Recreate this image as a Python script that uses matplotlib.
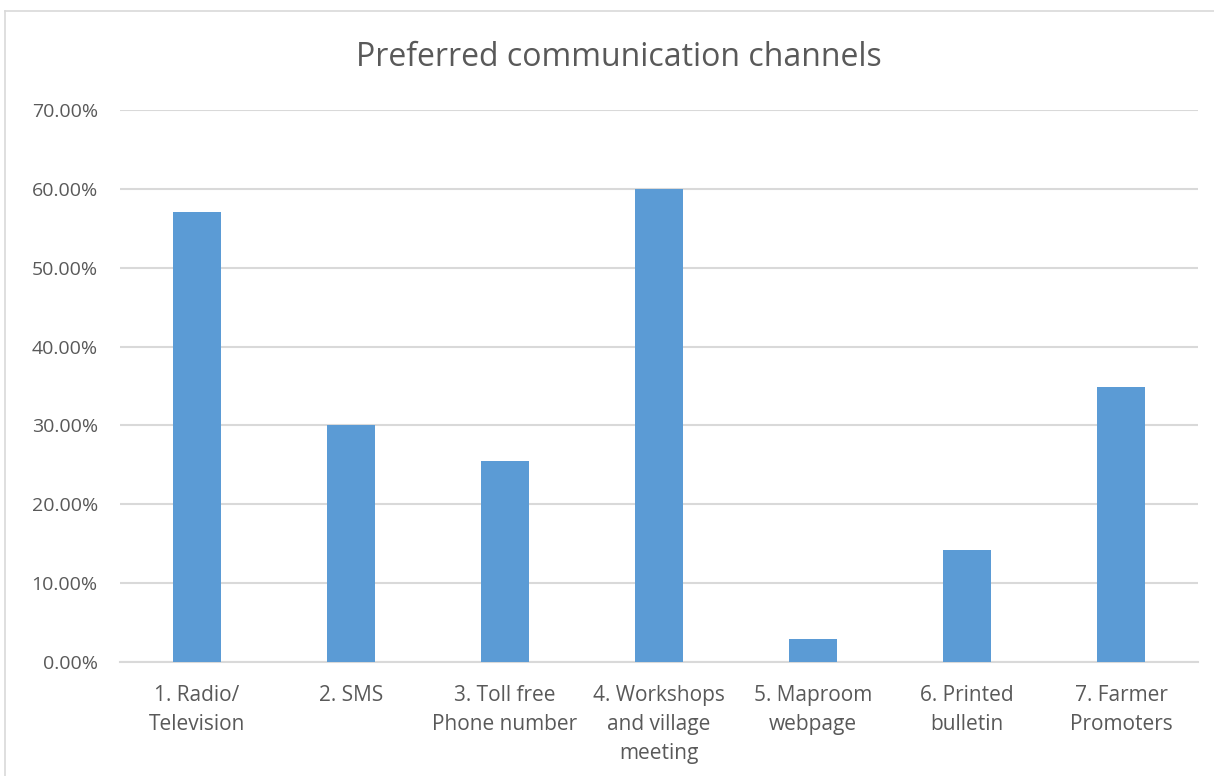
import matplotlib.pyplot as plt
from matplotlib.lines import Line2D
from matplotlib.ticker import FuncFormatter

channels = [
    "1. Radio/\nTelevision",
    "2. SMS",
    "3. Toll free\nPhone number",
    "4. Workshops\nand village\nmeeting",
    "5. Maproom\nwebpage",
    "6. Printed\nbulletin",
    "7. Farmer\nPromoters",
]
share = [0.571, 0.30, 0.255, 0.60, 0.029, 0.142, 0.349]
yticks = [0.0, 0.1, 0.2, 0.3, 0.4, 0.5, 0.6, 0.7]

W, H = 1214, 776
plt.rcParams['font.family'] = ['Open Sans', 'DejaVu Sans']
text_color = '#595959'

fig = plt.figure(figsize=(W / 100, H / 100), dpi=100)
ax = fig.add_axes([120 / W, 114 / H, 1078 / W, 552 / H])

x = range(len(channels))
ax.bar(x, share, width=0.31, color='#5B9BD5', zorder=3)

ax.set_xlim(-0.5, len(channels) - 0.5)
ax.set_ylim(0, 0.7)
ax.set_yticks(yticks)
ax.yaxis.set_major_formatter(FuncFormatter(lambda v, p: f"{v * 100:.2f}%"))
ax.set_xticks(list(x))
ax.set_xticklabels(channels, linespacing=1.5)
ax.tick_params(axis='both', length=0, colors=text_color)
ax.tick_params(axis='x', pad=16.5, labelsize=15)
ax.tick_params(axis='y', pad=16, labelsize=14)

ax.grid(axis='y', color='#D9D9D9', linewidth=1.5, zorder=0)
for side in ['top', 'right', 'left']:
    ax.spines[side].set_visible(False)
ax.spines['bottom'].set_color('#D9D9D9')
ax.spines['bottom'].set_linewidth(1.5)

fig.text(619 / W, 1 - 57 / H, "Preferred communication channels",
         ha='center', va='center', fontsize=23, color=text_color)

# chart frame, left and top edges only
fig.add_artist(Line2D([5 / W, 5 / W], [0, 1 - 11 / H], color='#D9D9D9', linewidth=1.2))
fig.add_artist(Line2D([5 / W, 1], [1 - 11 / H, 1 - 11 / H], color='#D9D9D9', linewidth=1.2))

fig.savefig('out.png', dpi=100, facecolor='white')
